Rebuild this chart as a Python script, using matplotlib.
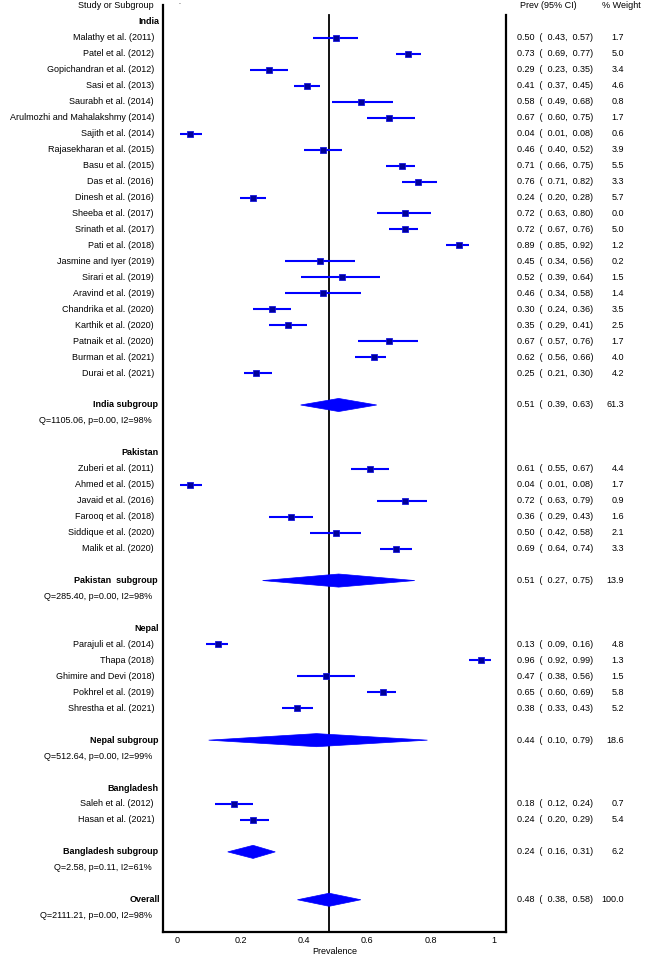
import matplotlib
matplotlib.use("Agg")
import matplotlib.pyplot as plt
from matplotlib.transforms import blended_transform_factory
from matplotlib.patches import Polygon

plt.rcParams['font.family'] = ['Liberation Sans', 'DejaVu Sans']

# ---------------- data ----------------
groups = ["India", "Pakistan", "Nepal", "Bangladesh"]

india_studies = ["Malathy et al. (2011)", "Patel et al. (2012)", "Gopichandran et al. (2012)",
                 "Sasi et al. (2013)", "Saurabh et al. (2014)", "Arulmozhi and Mahalakshmy (2014)",
                 "Sajith et al. (2014)", "Rajasekharan et al. (2015)", "Basu et al. (2015)",
                 "Das et al. (2016)", "Dinesh et al. (2016)", "Sheeba et al. (2017)",
                 "Srinath et al. (2017)", "Pati et al. (2018)", "Jasmine and Iyer (2019)",
                 "Sirari et al. (2019)", "Aravind et al. (2019)", "Chandrika et al. (2020)",
                 "Karthik et al. (2020)", "Patnaik et al. (2020)", "Burman et al. (2021)",
                 "Durai et al. (2021)"]
india_prev = [0.50, 0.73, 0.29, 0.41, 0.58, 0.67, 0.04, 0.46, 0.71, 0.76, 0.24,
              0.72, 0.72, 0.89, 0.45, 0.52, 0.46, 0.30, 0.35, 0.67, 0.62, 0.25]
india_lo = [0.43, 0.69, 0.23, 0.37, 0.49, 0.60, 0.01, 0.40, 0.66, 0.71, 0.20,
            0.63, 0.67, 0.85, 0.34, 0.39, 0.34, 0.24, 0.29, 0.57, 0.56, 0.21]
india_hi = [0.57, 0.77, 0.35, 0.45, 0.68, 0.75, 0.08, 0.52, 0.75, 0.82, 0.28,
            0.80, 0.76, 0.92, 0.56, 0.64, 0.58, 0.36, 0.41, 0.76, 0.66, 0.30]
india_w = [1.7, 5.0, 3.4, 4.6, 0.8, 1.7, 0.6, 3.9, 5.5, 3.3, 5.7,
           0.0, 5.0, 1.2, 0.2, 1.5, 1.4, 3.5, 2.5, 1.7, 4.0, 4.2]

pakistan_studies = ["Zuberi et al. (2011)", "Ahmed et al. (2015)", "Javaid et al. (2016)",
                    "Farooq et al. (2018)", "Siddique et al. (2020)", "Malik et al. (2020)"]
pakistan_prev = [0.61, 0.04, 0.72, 0.36, 0.50, 0.69]
pakistan_lo = [0.55, 0.01, 0.63, 0.29, 0.42, 0.64]
pakistan_hi = [0.67, 0.08, 0.79, 0.43, 0.58, 0.74]
pakistan_w = [4.4, 1.7, 0.9, 1.6, 2.1, 3.3]

nepal_studies = ["Parajuli et al. (2014)", "Thapa (2018)", "Ghimire and Devi (2018)",
                 "Pokhrel et al. (2019)", "Shrestha et al. (2021)"]
nepal_prev = [0.13, 0.96, 0.47, 0.65, 0.38]
nepal_lo = [0.09, 0.92, 0.38, 0.60, 0.33]
nepal_hi = [0.16, 0.99, 0.56, 0.69, 0.43]
nepal_w = [4.8, 1.3, 1.5, 5.8, 5.2]

bangladesh_studies = ["Saleh et al. (2012)", "Hasan et al. (2021)"]
bangladesh_prev = [0.18, 0.24]
bangladesh_lo = [0.12, 0.20]
bangladesh_hi = [0.24, 0.29]
bangladesh_w = [0.7, 5.4]

sub_labels = ["India subgroup", "Pakistan  subgroup", "Nepal subgroup", "Bangladesh subgroup"]
sub_prev = [0.51, 0.51, 0.44, 0.24]
sub_lo = [0.39, 0.27, 0.10, 0.16]
sub_hi = [0.63, 0.75, 0.79, 0.31]
sub_w = [61.3, 13.9, 18.6, 6.2]
sub_het = ["Q=1105.06, p=0.00, I2=98%", "Q=285.40, p=0.00, I2=98%",
           "Q=512.64, p=0.00, I2=99%", "Q=2.58, p=0.11, I2=61%"]

overall_prev = 0.48
overall_lo = 0.38
overall_hi = 0.58
overall_w = 100.0
overall_het = "Q=2111.21, p=0.00, I2=98%"

x_ticks = [0, 0.2, 0.4, 0.6, 0.8, 1]
x_ticklabels = ["0", "0.2", "0.4", "0.6", "0.8", "1"]

study_sets = [
    (india_studies, india_prev, india_lo, india_hi, india_w),
    (pakistan_studies, pakistan_prev, pakistan_lo, pakistan_hi, pakistan_w),
    (nepal_studies, nepal_prev, nepal_lo, nepal_hi, nepal_w),
    (bangladesh_studies, bangladesh_prev, bangladesh_lo, bangladesh_hi, bangladesh_w),
]

# ---------------- figure ----------------
W, H = 646, 959
fig = plt.figure(figsize=(W / 100, H / 100), dpi=100)
ROW0 = 6.0
ROWH = 15.96
ax_top, ax_bot = 5, 932
ax_left, ax_right = 163, 506
ax = fig.add_axes([ax_left / W, 1 - ax_bot / H, (ax_right - ax_left) / W, (ax_bot - ax_top) / H])
y_top = (ax_top - ROW0) / ROWH
y_bot = (ax_bot - ROW0) / ROWH
ax.set_ylim(y_bot, y_top)
x0px, x1px = 177, 494
xmin = (ax_left - x0px) / (x1px - x0px)
xmax = (ax_right - x0px) / (x1px - x0px)
ax.set_xlim(xmin, xmax)

FS = 6.5
tr = blended_transform_factory(fig.transFigure, ax.transData)

def fx(px):
    return px / W

def ci_text(p, lo, hi):
    return f"{p:.2f}  (  {lo:.2f},  {hi:.2f})"

LINE_C = "#0000FF"
SQ_FACE = "#00009A"
DIA_C = "#0000FF"

# headers
ax.text(fx(154), 0, "Study or Subgroup", transform=tr, ha="right", va="center", fontsize=FS)
ax.text(fx(520), 0, "Prev (95% CI)", transform=tr, ha="left", va="center", fontsize=FS)
ax.text(fx(602), 0, "% Weight", transform=tr, ha="left", va="center", fontsize=FS)
ax.text(0.006, 0, ".", ha="center", va="bottom", fontsize=5)

def diamond(p, lo, hi, y):
    h = 0.41
    poly = Polygon([[lo, y], [p, y - h], [hi, y], [p, y + h]], closed=True,
                   facecolor=DIA_C, edgecolor=DIA_C, linewidth=0.5, zorder=4)
    ax.add_patch(poly)

row = 1
for gi, g in enumerate(groups):
    names, prev, lo, hi, w = study_sets[gi]
    ax.text(fx(159), row, g, transform=tr, ha="right", va="center", fontsize=FS, fontweight="bold")
    row += 1
    for n, p, l, h_, ww in zip(names, prev, lo, hi, w):
        ax.plot([l, h_], [row, row], color=LINE_C, lw=1.5, solid_capstyle="butt", zorder=3)
        ax.plot([p], [row], marker="s", ms=4.6, mfc=SQ_FACE, mec="#1515E0", mew=0.6, zorder=5)
        ax.text(fx(154), row, n, transform=tr, ha="right", va="center", fontsize=FS)
        ax.text(fx(517), row, ci_text(p, l, h_), transform=tr, ha="left", va="center", fontsize=FS)
        ax.text(fx(624), row, f"{ww:.1f}", transform=tr, ha="right", va="center", fontsize=FS)
        row += 1
    row += 1
    diamond(sub_prev[gi], sub_lo[gi], sub_hi[gi], row)
    ax.text(fx(158), row, sub_labels[gi], transform=tr, ha="right", va="center", fontsize=FS, fontweight="bold")
    ax.text(fx(517), row, ci_text(sub_prev[gi], sub_lo[gi], sub_hi[gi]), transform=tr, ha="left", va="center", fontsize=FS)
    ax.text(fx(624), row, f"{sub_w[gi]:.1f}", transform=tr, ha="right", va="center", fontsize=FS)
    row += 1
    ax.text(fx(152), row, sub_het[gi], transform=tr, ha="right", va="center", fontsize=FS)
    row += 2

diamond(overall_prev, overall_lo, overall_hi, row)
ax.text(fx(160), row, "Overall", transform=tr, ha="right", va="center", fontsize=FS, fontweight="bold")
ax.text(fx(517), row, ci_text(overall_prev, overall_lo, overall_hi), transform=tr, ha="left", va="center", fontsize=FS)
ax.text(fx(624), row, f"{overall_w:.1f}", transform=tr, ha="right", va="center", fontsize=FS)
row += 1
ax.text(fx(152), row, overall_het, transform=tr, ha="right", va="center", fontsize=FS)

# central line at overall estimate
ax.plot([overall_prev, overall_prev], [0.56, y_bot], color="black", lw=1.3, zorder=2)

# spines / axis
ax.spines["top"].set_visible(False)
for s in ["left", "right", "bottom"]:
    ax.spines[s].set_linewidth(1.6)
ax.spines["right"].set_bounds(y_bot, 0.56)
ax.set_yticks([])
ax.set_xticks(x_ticks)
ax.set_xticklabels(x_ticklabels, fontsize=FS)
ax.tick_params(axis="x", length=0, pad=3)
ax.set_xlabel("Prevalence", fontsize=FS, labelpad=1)

fig.savefig("out.png", dpi=100)
